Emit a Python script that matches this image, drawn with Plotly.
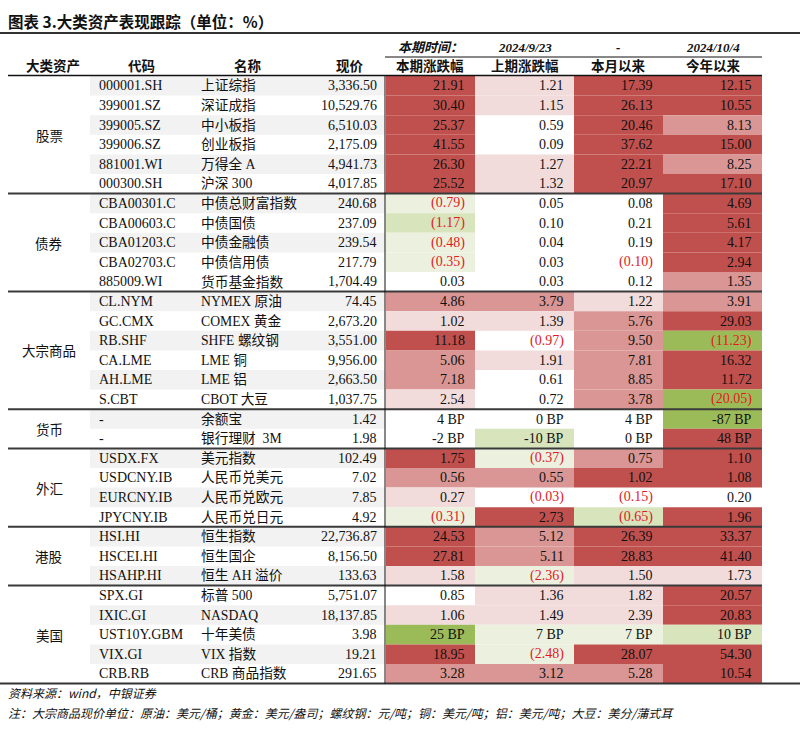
import plotly.graph_objects as go

# ---------------- data ----------------
groups = ["股票", "债券", "大宗商品", "货币", "外汇", "港股", "美国"]
group_sizes = [6, 5, 6, 2, 4, 3, 5]

codes = ["000001.SH", "399001.SZ", "399005.SZ", "399006.SZ", "881001.WI", "000300.SH",
         "CBA00301.C", "CBA00603.C", "CBA01203.C", "CBA02703.C", "885009.WI",
         "CL.NYM", "GC.CMX", "RB.SHF", "CA.LME", "AH.LME", "S.CBT",
         "-", "-",
         "USDX.FX", "USDCNY.IB", "EURCNY.IB", "JPYCNY.IB",
         "HSI.HI", "HSCEI.HI", "HSAHP.HI",
         "SPX.GI", "IXIC.GI", "UST10Y.GBM", "VIX.GI", "CRB.RB"]
names = ["上证综指", "深证成指", "中小板指", "创业板指", "万得全 A", "沪深 300",
         "中债总财富指数", "中债国债", "中债金融债", "中债信用债", "货币基金指数",
         "NYMEX 原油", "COMEX 黄金", "SHFE 螺纹钢", "LME 铜", "LME 铝", "CBOT 大豆",
         "余额宝", "银行理财  3M",
         "美元指数", "人民币兑美元", "人民币兑欧元", "人民币兑日元",
         "恒生指数", "恒生国企", "恒生 AH 溢价",
         "标普 500", "NASDAQ", "十年美债", "VIX 指数", "CRB 商品指数"]
prices = [3336.50, 10529.76, 6510.03, 2175.09, 4941.73, 4017.85,
          240.68, 237.09, 239.54, 217.79, 1704.49,
          74.45, 2673.20, 3551.00, 9956.00, 2663.50, 1037.75,
          1.42, 1.98,
          102.49, 7.02, 7.85, 4.92,
          22736.87, 8156.50, 133.63,
          5751.07, 18137.85, 3.98, 19.21, 291.65]
units = ["%"] * 17 + ["BP", "BP"] + ["%"] * 7 + ["%", "%", "BP", "%", "%"]

chg_cur = [21.91, 30.40, 25.37, 41.55, 26.30, 25.52,
           -0.79, -1.17, -0.48, -0.35, 0.03,
           4.86, 1.02, 11.18, 5.06, 7.18, 2.54,
           4, -2,
           1.75, 0.56, 0.27, -0.31,
           24.53, 27.81, 1.58,
           0.85, 1.06, 25, 18.95, 3.28]
chg_prev = [1.21, 1.15, 0.59, 0.09, 1.27, 1.32,
            0.05, 0.10, 0.04, 0.03, 0.03,
            3.79, 1.39, -0.97, 1.91, 0.61, 0.72,
            0, -10,
            -0.37, 0.55, -0.03, 2.73,
            5.12, 5.11, -2.36,
            1.36, 1.49, 7, -2.48, 3.12]
chg_mtd = [17.39, 26.13, 20.46, 37.62, 22.21, 20.97,
           0.08, 0.21, 0.19, -0.10, 0.12,
           1.22, 5.76, 9.50, 7.81, 8.85, 3.78,
           4, 0,
           0.75, 1.02, -0.15, -0.65,
           26.39, 28.83, 1.50,
           1.82, 2.39, 7, 28.07, 5.28]
chg_ytd = [12.15, 10.55, 8.13, 15.00, 8.25, 17.10,
           4.69, 5.61, 4.17, 2.94, 1.35,
           3.91, 29.03, -11.23, 16.32, 11.72, -20.05,
           -87, 48,
           1.10, 1.08, 0.20, 1.96,
           33.37, 41.40, 1.73,
           20.57, 20.83, 10, 54.30, 10.54]

col_headers = ["本期涨跌幅", "上期涨跌幅", "本月以来", "今年以来"]
period_labels = ["本期时间：", "2024/9/23", "-", "2024/10/4"]
left_headers = ["大类资产", "代码", "名称", "现价"]
title = "图表 3.大类资产表现跟踪（单位：%）"
source = "资料来源：wind，中银证券"
note = "注：大宗商品现价单位：原油：美元/桶；黄金：美元/盎司；螺纹钢：元/吨；铜：美元/吨；铝：美元/吨；大豆：美分/蒲式耳"

# ---------------- styles ----------------
# conditional-format colour levels (3..1 red, 0 white, -1..-3 green)
lvl_cur = [3, 3, 3, 3, 3, 3, -1, -2, -1, -1, 0, 2, 1, 3, 2, 2, 1, 0, 0,
           3, 2, 1, -1, 3, 3, 1, 0, 1, -3, 3, 2]
lvl_prev = [1, 1, 0, 0, 1, 1, 0, 0, 0, 0, 0, 2, 1, 0, 1, 0, 0, 0, -2,
            -1, 2, 0, 3, 2, 2, -1, 1, 1, -1, -1, 2]
lvl_mtd = [3, 3, 3, 3, 3, 3, 0, 0, 0, 0, 0, 1, 2, 2, 2, 2, 2, 0, 0,
           2, 3, 0, -2, 3, 3, 1, 1, 1, -1, 3, 2]
lvl_ytd = [3, 3, 2, 3, 2, 3, 3, 3, 3, 3, 2, 2, 3, -3, 3, 3, -3, -3, 3,
           3, 3, 0, 3, 3, 3, 1, 3, 3, -2, 3, 3]
stripe = [1, 0, 1, 0, 1, 0, 1, 0, 1, 0, 0, 1, 0, 1, 0, 1, 0, 1, 0,
          1, 0, 1, 0, 1, 0, 1, 0, 1, 0, 1, 0]
level_color = {3: "#c0504d", 2: "#d99694", 1: "#f2dcdb", 0: "#ffffff",
               -1: "#ebf1de", -2: "#d7e4bc", -3: "#9bbb59"}
NEG = "#e3191e"
TXT = "#111111"
SERIF = "Liberation Serif, Times New Roman, Noto Sans CJK SC"
CJK = "Noto Sans CJK SC, Liberation Serif"

Y0, RH = 76.0, 19.6
col_edges = [386, 475, 574, 663, 762]
col_right = [466, 565, 654, 753]

fig = go.Figure()
shapes = []
ann = []


def row_y(i):
    return Y0 + (i + 0.5) * RH


def text(x, y, s, size=14, color=TXT, family=SERIF, anchor="left", bold=False, italic=False):
    if bold:
        s = "<b>" + s + "</b>"
    if italic:
        s = "<i>" + s + "</i>"
    ann.append(dict(x=x, y=y, xref="x", yref="y", text=s, showarrow=False,
                    xanchor=anchor, yanchor="middle",
                    font=dict(size=size, color=color, family=family), borderpad=0))


def fmt(v, unit):
    if unit == "BP":
        return f"{v:g} BP", TXT
    if v < 0:
        return f"({abs(v):.2f})", NEG
    return f"{v:.2f}", TXT


n = len(codes)
# zebra striping on left part
for i in range(n):
    if stripe[i]:
        shapes.append(dict(type="rect", xref="x", yref="y", x0=90, x1=385,
                           y0=Y0 + i * RH, y1=Y0 + (i + 1) * RH,
                           fillcolor="#f2f2f2", line=dict(width=0), layer="below"))

# coloured value cells + texts
value_cols = [chg_cur, chg_prev, chg_mtd, chg_ytd]
level_cols = [lvl_cur, lvl_prev, lvl_mtd, lvl_ytd]
for c in range(4):
    for i in range(n):
        lv = level_cols[c][i]
        if lv != 0:
            shapes.append(dict(type="rect", xref="x", yref="y",
                               x0=col_edges[c], x1=col_edges[c + 1],
                               y0=Y0 + i * RH, y1=Y0 + (i + 1) * RH,
                               fillcolor=level_color[lv], line=dict(width=0), layer="below"))
        s, colr = fmt(value_cols[c][i], units[i])
        text(col_right[c], row_y(i), s, color=colr, anchor="right")

# left columns
for i in range(n):
    text(98, row_y(i), codes[i])
    text(200, row_y(i), names[i], size=13.7, family=SERIF)
    text(378, row_y(i), f"{prices[i]:,.2f}", anchor="right")

# group labels and separators
start = 0
for g, sz in zip(groups, group_sizes):
    yc = Y0 + (start + sz / 2) * RH
    text(49, yc, g, size=13.5, family=CJK, anchor="center")
    if start > 0:
        yl = Y0 + start * RH
        shapes.append(dict(type="line", xref="x", yref="y", x0=8, x1=762, y0=yl, y1=yl,
                           line=dict(color="#3a3a3a", width=2)))
    start += sz

y_end = Y0 + n * RH
# lines
shapes.append(dict(type="line", xref="x", yref="y", x0=0, x1=800, y0=33, y1=33,
                   line=dict(color="#333333", width=2)))
shapes.append(dict(type="line", xref="x", yref="y", x0=385, x1=762, y0=57, y1=57,
                   line=dict(color="#111111", width=1)))
shapes.append(dict(type="line", xref="x", yref="y", x0=8, x1=762, y0=Y0 - 0.5, y1=Y0 - 0.5,
                   line=dict(color="#111111", width=1.5)))
shapes.append(dict(type="line", xref="x", yref="y", x0=0, x1=800, y0=y_end, y1=y_end,
                   line=dict(color="#333333", width=2)))
shapes.append(dict(type="line", xref="x", yref="y", x0=385, x1=385, y0=Y0, y1=y_end,
                   line=dict(color="#111111", width=1)))

# headers
text(7, 21, title, size=15.5, family=CJK, bold=True)
left_hx = [53, 141, 248, 350]
for hx, h in zip(left_hx, left_headers):
    text(hx, 65, h, size=13.5, family=CJK, anchor="center", bold=True)
head_x = [430, 525, 618, 713]
for hx, h in zip(head_x, col_headers):
    text(hx, 65, h, size=13.5, family=CJK, anchor="center", bold=True)
for hx, h in zip(head_x, period_labels):
    text(hx, 47, h, size=13, family=SERIF, anchor="center", bold=True, italic=True)

# footer
text(7, y_end + 9, source, size=12, family=CJK, italic=True)
text(7, y_end + 29, note, size=12, family=CJK, italic=True)

# invisible trace to establish axes
fig.add_trace(go.Scatter(x=[0, 800], y=[0, 744], mode="markers",
                         marker=dict(opacity=0), hoverinfo="skip", showlegend=False))

fig.update_layout(width=800, height=744, margin=dict(l=0, r=0, t=0, b=0),
                  paper_bgcolor="white", plot_bgcolor="white",
                  shapes=shapes, annotations=ann, showlegend=False,
                  xaxis=dict(range=[0, 800], visible=False, fixedrange=True),
                  yaxis=dict(range=[744, 0], visible=False, fixedrange=True))
fig.write_html("out.html", config={"displayModeBar": False, "staticPlot": True},
               post_script="document.body.style.margin='0';document.body.style.overflow='hidden';")
